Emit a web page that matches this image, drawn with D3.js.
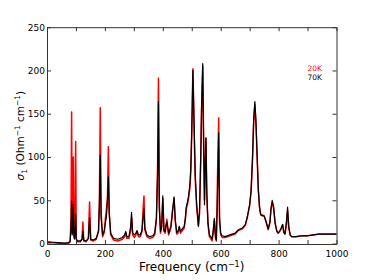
<!DOCTYPE html>
<html>
<head>
<meta charset="utf-8">
<script src="https://cdn.jsdelivr.net/npm/d3@7"></script>
<style>
    body { margin: 0; background: #fff; }
    text { font-family: "DejaVu Sans", sans-serif; }
</style>
</head>
<body>
<div id="graphContainer"></div>
<script>
"use strict";
// frequency grid (cm^-1), shared by both temperatures
const freq = [0, 20, 40, 60, 75, 80, 83, 85, 87, 89, 91, 93, 95, 97, 99, 101, 105, 115, 121, 124,
    127, 135, 143, 147, 151, 160, 170, 178, 181, 184, 187, 192, 198, 202, 205, 209, 212, 215, 220, 230,
    245, 260, 268, 272, 276, 283, 289, 292, 296, 302, 307, 311, 316, 322, 328, 332, 335, 338, 345, 355,
    365, 372, 378, 382, 385, 388, 392, 396, 400, 404, 408, 411, 414, 420, 428, 434, 439, 443, 448, 452,
    457, 461, 465, 474, 478, 481, 485, 489, 494, 497, 500, 504, 508, 512, 517, 523, 527, 531, 534, 538,
    541, 544, 546, 549, 552, 556, 561, 566, 570, 574, 578, 582, 585, 588, 593, 596, 600, 605, 615, 632,
    650, 661, 675, 685, 692, 700, 705, 710, 714, 718, 722, 726, 730, 734, 738, 744, 750, 756, 764, 770,
    774, 778, 783, 788, 794, 799, 807, 814, 818, 822, 827, 831, 835, 840, 845, 860, 880, 900, 919, 940,
    960, 980, 1000]

// sigma_1 at 70K (black)
const sigma70 = [2, 1.5, 1, 0.5, 1, 3, 20, 49, 10, 20, 45, 8, 5, 15, 34, 6, 3, 3, 5, 14,
    4, 3, 6, 30, 5, 4, 6, 15, 45, 102, 30, 10, 15, 25, 30, 50, 77, 35, 12, 6,
    5, 7, 10, 14, 8, 8, 20, 36, 12, 10, 12, 15, 10, 10, 15, 30, 40, 18, 10, 8,
    9, 12, 30, 80, 164, 40, 14, 20, 55, 15, 14, 22, 25, 12, 20, 40, 54, 28, 13, 14,
    20, 14, 16, 20, 30, 42, 48, 55, 70, 90, 130, 200, 140, 80, 45, 20, 40, 100, 160, 208,
    120, 45, 80, 122, 60, 25, 10, 8, 5, 15, 29, 8, 4, 40, 128, 30, 12, 9, 8, 10,
    12, 16, 18, 22, 31, 45, 62, 100, 145, 164, 140, 100, 62, 42, 33, 32, 32, 26, 17, 25,
    40, 50, 42, 24, 14, 12, 16, 22, 13, 11, 25, 42, 20, 10, 8, 8, 9, 9, 10, 11,
    11, 11, 11]

// sigma_1 at 20K (red)
const sigma20 = [1.5, 1, 0.5, 0, 0.5, 2, 30, 152, 12, 40, 100, 10, 6, 30, 118, 5, 2, 2, 5, 25,
    3, 2, 6, 48, 4, 3, 5, 14, 50, 157, 35, 8, 13, 30, 38, 55, 112, 35, 10, 4,
    3, 5, 8, 12, 6, 6, 15, 30, 10, 7, 10, 14, 8, 8, 14, 40, 55, 16, 8, 6,
    7, 10, 28, 90, 191, 45, 12, 18, 52, 14, 12, 18, 28, 10, 18, 38, 52, 26, 11, 12,
    18, 12, 14, 18, 28, 40, 45, 52, 65, 85, 128, 202, 135, 75, 42, 20, 35, 95, 155, 205,
    115, 50, 85, 122, 55, 22, 8, 6, 3, 12, 27, 6, 3, 60, 145, 25, 10, 7, 7, 9,
    11, 15, 17, 21, 30, 44, 60, 98, 140, 160, 136, 98, 62, 43, 34, 33, 32, 26, 16, 24,
    42, 47, 40, 23, 14, 12, 16, 22, 13, 11, 22, 38, 18, 10, 8, 8, 9, 9, 10, 11,
    11, 11, 11]

const xTicks = [0, 100, 200, 300, 400, 500, 600, 700, 800, 900, 1000]
const yTicks = [0, 50, 100, 150, 200, 250]
const legendLabels = ["20K", "70K"]
const legendColors = ["#ff0000", "#000000"]

;(function () {
    const measurements = {
        width: 374,
        height: 280,
        left: 47,
        right: 336.5,
        top: 27.2,
        bottom: 244
    }

    const svg = d3.select("#graphContainer").append("svg")
        .attr("width", measurements.width)
        .attr("height", measurements.height)

    const scaleX = d3.scaleLinear()
        .domain([0, 1000])
        .range([measurements.left, measurements.right])

    // a little below zero so the baseline sits just above the axis
    const scaleY = d3.scaleLinear()
        .domain([-0.5, 250])
        .range([measurements.bottom, measurements.top])

    // curves: red first, black on top
    const spectrumLine = d3.line()
        .x((d, i) => scaleX(freq[i]))
        .y(d => scaleY(d))
    svg.append("path")
        .datum(sigma20)
        .attr("d", spectrumLine)
        .attr("fill", "none")
        .attr("stroke", "#ff0000")
        .attr("stroke-width", 1.5)
        .attr("stroke-linejoin", "round")

    svg.append("path")
        .datum(sigma70)
        .attr("d", spectrumLine)
        .attr("fill", "none")
        .attr("stroke", "#000")
        .attr("stroke-width", 1.2)
        .attr("stroke-linejoin", "round")

    // axes, ticks pointing inward like matplotlib
    const styleAxis = g => {
        g.select(".domain").attr("stroke", "#333")
        g.selectAll(".tick line").attr("stroke", "#333")
        g.selectAll("text").attr("font-size", 9).attr("fill", "#000")
            .attr("font-family", "DejaVu Sans, sans-serif")
    }

    svg.append("g")
        .attr("transform", `translate(0,${measurements.bottom})`)
        .call(d3.axisBottom(scaleX).tickValues(xTicks).tickSizeInner(-4).tickSizeOuter(0)
            .tickPadding(7).tickFormat(d => d % 200 === 0 ? d : ""))
        .call(styleAxis)

    svg.append("g")
        .attr("transform", `translate(0,${measurements.top})`)
        .call(d3.axisTop(scaleX).tickValues(xTicks).tickSizeInner(-4).tickSizeOuter(0).tickFormat(""))
        .call(styleAxis)

    svg.append("g")
        .attr("transform", `translate(${measurements.left},0)`)
        .call(d3.axisLeft(scaleY).tickValues(yTicks).tickSizeInner(-4).tickSizeOuter(0).tickPadding(2))
        .call(styleAxis)

    svg.append("g")
        .attr("transform", `translate(${measurements.right},0)`)
        .call(d3.axisRight(scaleY).tickValues(yTicks).tickSizeInner(-4).tickSizeOuter(0).tickFormat(""))
        .call(styleAxis)

    // axis titles
    const xTitle = svg.append("text")
        .attr("x", (measurements.left + measurements.right) / 2)
        .attr("y", 271)
        .attr("text-anchor", "middle")
        .attr("font-size", 12)
    xTitle.append("tspan").text("Frequency (cm")
    xTitle.append("tspan").attr("dy", -4).attr("font-size", 8).text("\u22121")
    xTitle.append("tspan").attr("dy", 4).text(")")

    const yTitle = svg.append("text")
        .attr("transform", `translate(24,${(measurements.top + measurements.bottom) / 2}) rotate(-90)`)
        .attr("text-anchor", "middle")
        .attr("font-size", 10.5)
    yTitle.append("tspan").attr("font-style", "italic").text("\u03c3")
    yTitle.append("tspan").attr("dy", 2.5).attr("font-size", 7.5).text("1")
    yTitle.append("tspan").attr("dy", -2.5).text(" (Ohm")
    yTitle.append("tspan").attr("dy", -4).attr("font-size", 7.5).text("\u22121")
    yTitle.append("tspan").attr("dy", 4).text(" cm")
    yTitle.append("tspan").attr("dy", -4).attr("font-size", 7.5).text("\u22121")
    yTitle.append("tspan").attr("dy", 4).text(")")

    // legend, text only
    svg.selectAll(".legend")
        .data(legendLabels)
        .enter()
        .append("text")
        .attr("class", "legend")
        .attr("x", 322)
        .attr("y", (d, i) => 71 + i * 8.7)
        .attr("text-anchor", "end")
        .attr("font-size", 7.5)
        .attr("fill", (d, i) => legendColors[i])
        .text(d => d)
})()
</script>
</body>
</html>
